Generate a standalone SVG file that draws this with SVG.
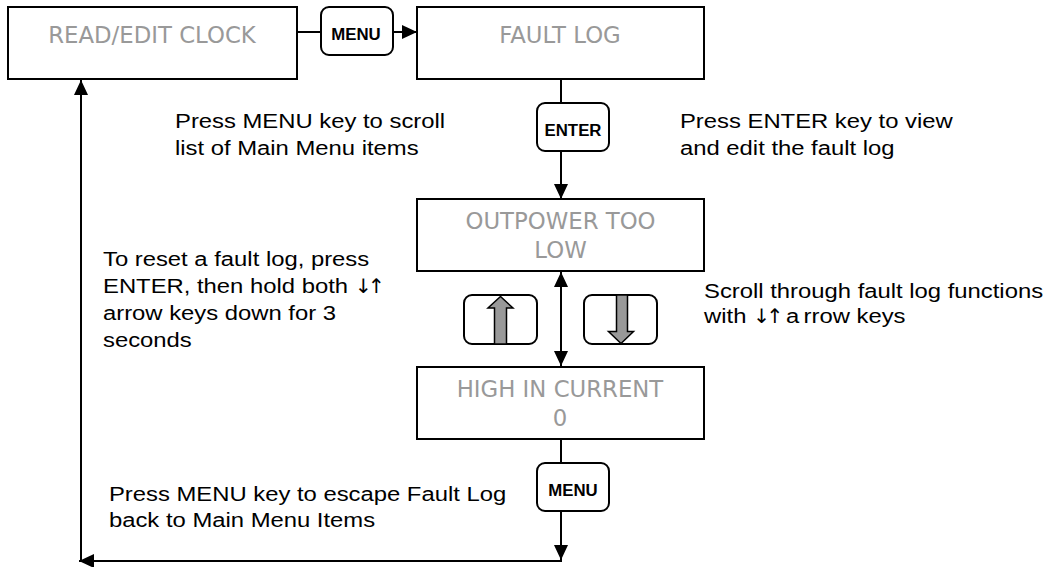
<svg xmlns="http://www.w3.org/2000/svg" width="1047" height="567" viewBox="0 0 1047 567">
  <style>
    .box { fill: #ffffff; stroke: #000000; stroke-width: 2; }
    .key { fill: #ffffff; stroke: #000000; stroke-width: 2; }
    .lbl { font-family: "DejaVu Sans", Verdana, sans-serif; font-size: 22.8px; fill: #999999; text-anchor: middle; }
    .keytxt { font-family: "Liberation Sans", Arial, sans-serif; font-size: 16.8px; font-weight: bold; fill: #000000; text-anchor: middle; }
    .note { font-family: "Liberation Sans", Arial, sans-serif; font-size: 21px; fill: #000000; }
    .arr { font-family: "DejaVu Sans Condensed", "DejaVu Sans", sans-serif; font-size: 20px; letter-spacing: -3.5px; fill: #000000; }
    .gap { letter-spacing: -2px; }
    .conn { fill: none; stroke: #000000; stroke-width: 2; }
    .garrow { fill: #999999; stroke: #000000; stroke-width: 1.5; stroke-linejoin: miter; }
  </style>
  <defs>
    <marker id="ah" markerUnits="userSpaceOnUse" markerWidth="16" markerHeight="14" refX="15" refY="7" orient="auto-start-reverse" viewBox="0 0 16 14">
      <path d="M0,0 L15,7 L0,14 z" fill="#000000"/>
    </marker>
  </defs>
  <rect width="1047" height="567" fill="#ffffff"/>

  <g id="connectors">
    <path class="conn" d="M297,32 H321"/>
    <path class="conn" d="M393,32 H417" marker-end="url(#ah)"/>
    <path class="conn" d="M561,79 V103"/>
    <path class="conn" d="M561,151 V199" marker-end="url(#ah)"/>
    <path class="conn" d="M561,272 V366" marker-start="url(#ah)" marker-end="url(#ah)"/>
    <path class="conn" d="M561,439 V463"/>
    <path class="conn" d="M561,511 V560" marker-end="url(#ah)"/>
    <path class="conn" d="M562,561 H79" marker-end="url(#ah)"/>
    <path class="conn" d="M81,562 V80" marker-end="url(#ah)"/>
  </g>

  <g id="read-edit-clock">
    <rect class="box" x="8" y="7" width="289" height="72"/>
    <text class="lbl" x="152" y="43">READ/EDIT CLOCK</text>
  </g>

  <g id="key-menu-top">
    <rect class="key" x="321" y="7" width="72" height="48" rx="8"/>
    <text class="keytxt" x="356" y="40">MENU</text>
  </g>

  <g id="fault-log">
    <rect class="box" x="417" y="7" width="287" height="72"/>
    <text class="lbl" x="560" y="43">FAULT LOG</text>
  </g>

  <g id="key-enter">
    <rect class="key" x="537" y="103" width="72" height="48" rx="8"/>
    <text class="keytxt" x="573" y="136">ENTER</text>
  </g>

  <g id="outpower-too-low">
    <rect class="box" x="417" y="199" width="287" height="72"/>
    <text class="lbl" x="560.5" y="229">OUTPOWER TOO</text>
    <text class="lbl" x="560.5" y="258">LOW</text>
  </g>

  <g id="key-up">
    <rect class="key" x="464" y="295" width="73" height="49" rx="8"/>
    <polygon class="garrow" points="494.5,344 494.5,308 488,308 500.5,296.5 513,308 506.5,308 506.5,344"/>
  </g>

  <g id="key-down">
    <rect class="key" x="584" y="295" width="73" height="49" rx="8"/>
    <polygon class="garrow" points="616.5,295 616.5,331.5 608.5,331.5 621,343.5 633.5,331.5 627.5,331.5 627.5,295"/>
  </g>

  <g id="high-in-current">
    <rect class="box" x="417" y="367" width="287" height="72"/>
    <text class="lbl" x="560" y="397">HIGH IN CURRENT</text>
    <text class="lbl" x="560" y="426">0</text>
  </g>

  <g id="key-menu-bottom">
    <rect class="key" x="537" y="463" width="72" height="48" rx="8"/>
    <text class="keytxt" x="573" y="496">MENU</text>
  </g>

  <g id="notes" transform="scale(1.135 1)">
    <text class="note" x="154.2" y="128">Press MENU key to scroll</text>
    <text class="note" x="154.2" y="155">list of Main Menu items</text>
    <text class="note" x="599.1" y="128">Press ENTER key to view</text>
    <text class="note" x="599.1" y="155">and edit the fault log</text>
    <text class="note" x="90.75" y="266">To reset a fault log, press</text>
    <text class="note" x="90.75" y="293">ENTER, then hold both <tspan class="arr">↓↑</tspan></text>
    <text class="note" x="90.75" y="320">arrow keys down for 3</text>
    <text class="note" x="90.75" y="347">seconds</text>
    <text class="note" x="620.3" y="298">Scroll through fault log functions</text>
    <text class="note" x="620.3" y="323">with <tspan class="arr">↓↑</tspan><tspan> a</tspan><tspan class="gap"> </tspan><tspan>rrow keys</tspan></text>
    <text class="note" x="96" y="501">Press MENU key to escape Fault Log</text>
    <text class="note" x="96" y="527">back to Main Menu Items</text>
  </g>
</svg>
